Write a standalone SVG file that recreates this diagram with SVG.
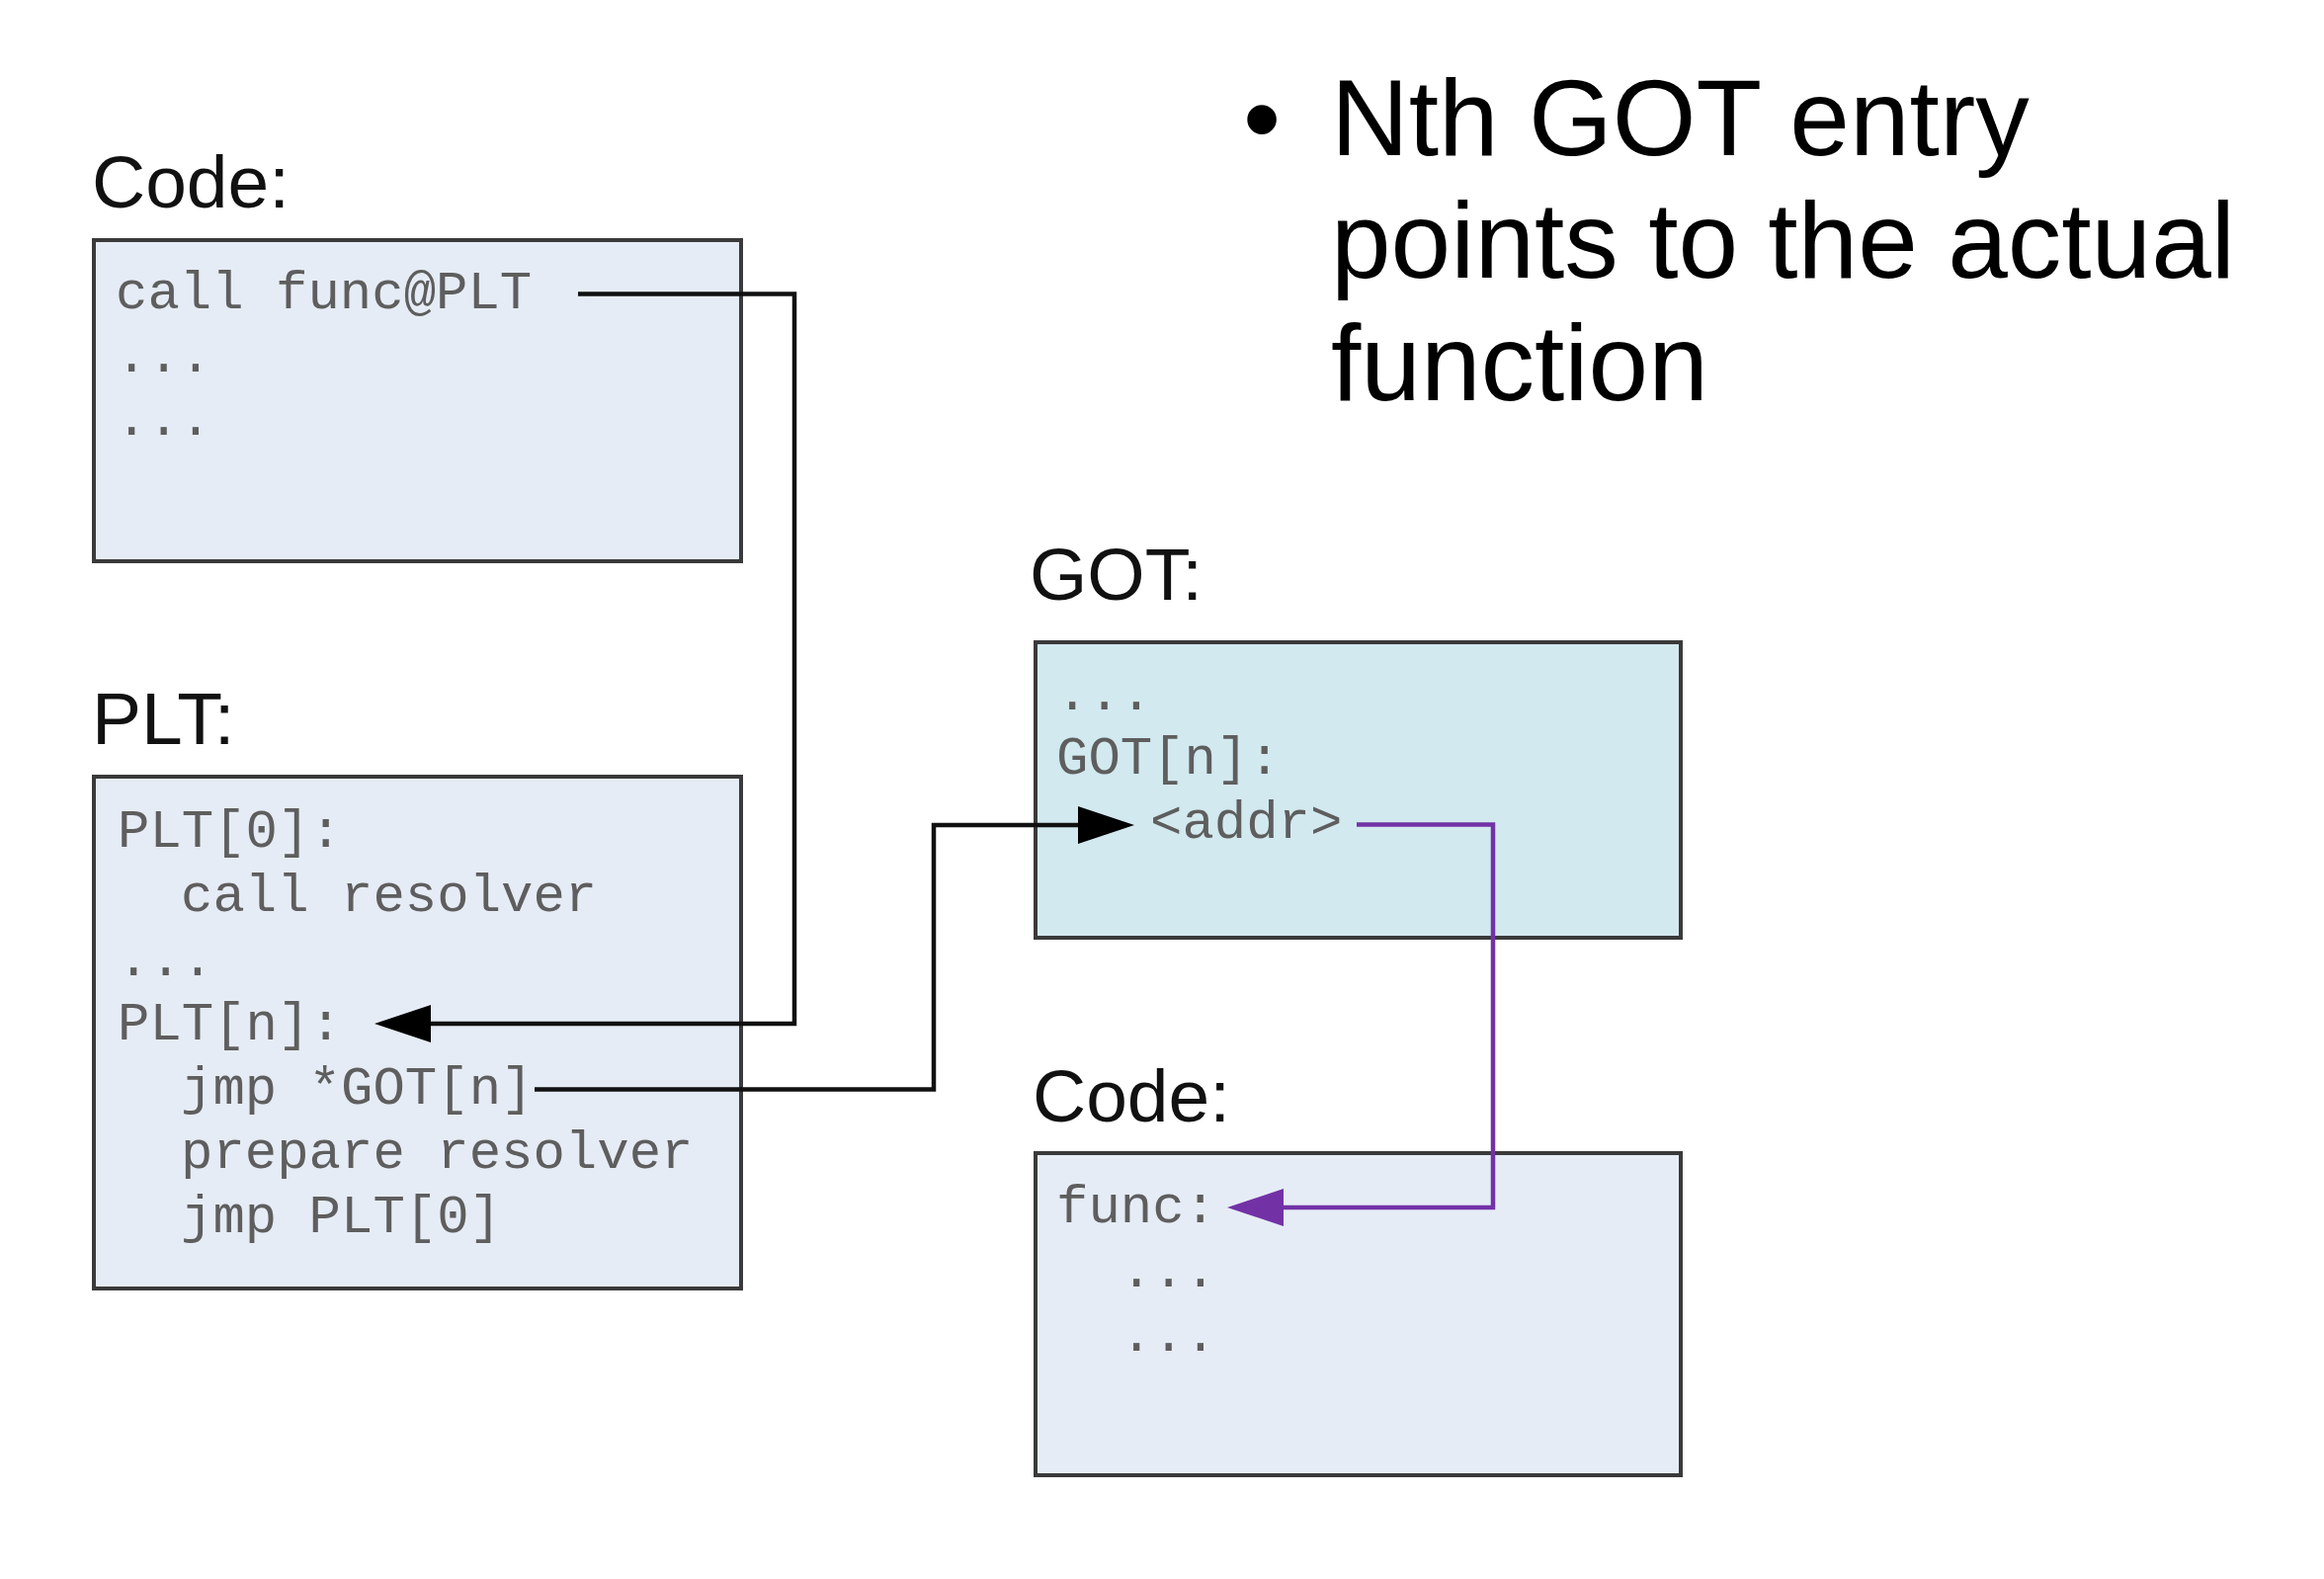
<svg xmlns="http://www.w3.org/2000/svg" width="2352" height="1598" viewBox="0 0 2352 1598">
<style>
.lbl{font-family:"Liberation Sans",Arial,sans-serif;font-size:75px;fill:#111}
.bul{font-family:"Liberation Sans",Arial,sans-serif;font-size:109px;fill:#000}
.mono{font-family:"Liberation Mono","Courier New",monospace;font-size:54px;fill:#5e5e5e}
.box{fill:#e6ecf6;stroke:#3a3a3a;stroke-width:4}
.got{fill:#d2e9ef;stroke:#3a3a3a;stroke-width:4}
.con{fill:none;stroke:#111;stroke-width:4.5}
.conp{fill:none;stroke:#7232a6;stroke-width:4.5}
</style>
<defs>
<marker id="ab" markerUnits="userSpaceOnUse" markerWidth="57" markerHeight="38" refX="37" refY="19" orient="auto"><path d="M0,0 L57,19 L0,38 z" fill="#000"/></marker>
<marker id="ap" markerUnits="userSpaceOnUse" markerWidth="57" markerHeight="38" refX="37" refY="19" orient="auto"><path d="M0,0 L57,19 L0,38 z" fill="#7232a6"/></marker>
</defs>
<rect width="2352" height="1598" fill="#fff"/>
<g id="bullet">
<text class="bul" x="1258" y="157">•</text>
<text class="bul" x="1347" y="157">Nth GOT entry</text>
<text class="bul" x="1347" y="281">points to the actual</text>
<text class="bul" x="1347" y="405">function</text>
</g>
<g id="code1">
<text class="lbl" x="93" y="210">Code:</text>
<rect class="box" x="95" y="243" width="655" height="325"/>
<text class="mono" x="117" y="312" xml:space="preserve">call func@PLT</text>
<text class="mono" x="117" y="376">...</text>
<text class="mono" x="117" y="440">...</text>
</g>
<g id="plt">
<text class="lbl" x="93" y="753">PLT:</text>
<rect class="box" x="95" y="786" width="655" height="518"/>
<text class="mono" x="119" y="857">PLT[0]:</text>
<text class="mono" x="183" y="922">call resolver</text>
<text class="mono" x="119" y="987">...</text>
<text class="mono" x="119" y="1052">PLT[n]:</text>
<text class="mono" x="183" y="1117">jmp *GOT[n]</text>
<text class="mono" x="183" y="1182">prepare resolver</text>
<text class="mono" x="183" y="1247">jmp PLT[0]</text>
</g>
<g id="got">
<text class="lbl" x="1042" y="607">GOT:</text>
<rect class="got" x="1048" y="650" width="653" height="299"/>
<text class="mono" x="1069" y="718">...</text>
<text class="mono" x="1069" y="783">GOT[n]:</text>
<text class="mono" x="1164" y="848">&lt;addr&gt;</text>
</g>
<g id="code2">
<text class="lbl" x="1045" y="1135">Code:</text>
<rect class="box" x="1048" y="1167" width="653" height="326"/>
<text class="mono" x="1069" y="1237">func:</text>
<text class="mono" x="1134" y="1302">...</text>
<text class="mono" x="1134" y="1367">...</text>
</g>
<g id="connectors">
<path class="con" d="M585,297.5 H804 V1036 H399" marker-end="url(#ab)"/>
<path class="con" d="M541,1102.5 H945 V835 H1128" marker-end="url(#ab)"/>
<path class="conp" d="M1373,834.5 H1511 V1222 H1262" marker-end="url(#ap)"/>
</g>
</svg>
